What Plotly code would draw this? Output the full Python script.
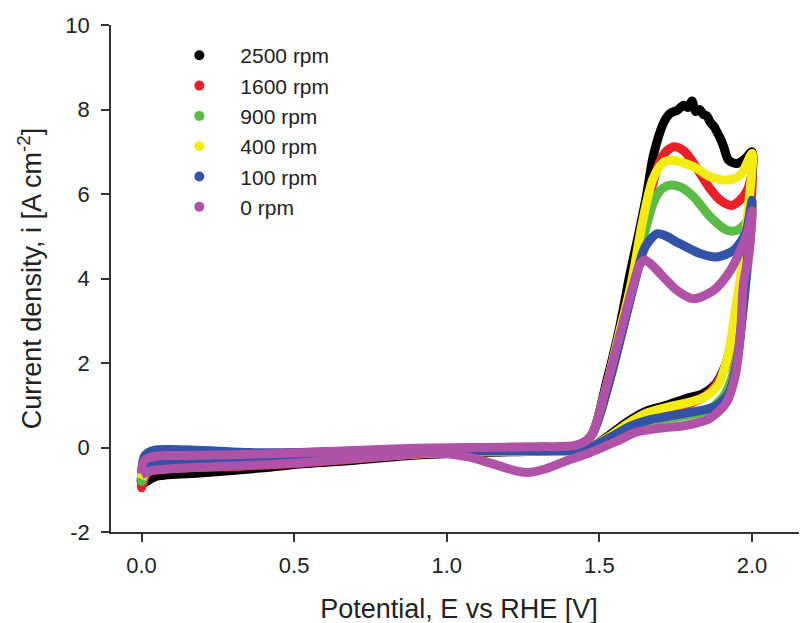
import plotly.graph_objects as go

# potential (V vs RHE) and current density (A cm^-2), forward then reverse sweep
E_fwd_0 = [0.0, 0.01, 0.05, 0.15, 0.3, 0.5, 0.7, 0.9, 1.1, 1.3, 1.42, 1.47, 1.525, 1.568, 1.612, 1.634, 1.65, 1.675, 1.70, 1.754, 1.809, 1.874, 1.929, 1.962, 1.985, 2.0]
I_fwd_0 = [-0.62, -0.3, -0.2, -0.19, -0.17, -0.13, -0.07, -0.02, 0.0, 0.02, 0.05, 0.24, 1.5, 2.69, 3.88, 4.35, 4.43, 4.3, 4.11, 3.72, 3.52, 3.72, 4.19, 4.67, 5.1, 5.6]
E_rev_0 = [1.99, 1.972, 1.962, 1.945, 1.915, 1.86, 1.78, 1.69, 1.62, 1.56, 1.47, 1.39, 1.33, 1.265, 1.22, 1.17, 1.07, 0.95, 0.85, 0.72, 0.5, 0.3, 0.1, 0.03, 0.0]
I_rev_0 = [4.6, 3.88, 2.69, 1.7, 1.05, 0.68, 0.52, 0.45, 0.36, 0.16, -0.12, -0.32, -0.49, -0.59, -0.54, -0.43, -0.22, -0.13, -0.18, -0.25, -0.37, -0.44, -0.5, -0.55, -0.65]

E_fwd_100 = [0.0, 0.01, 0.04, 0.2, 0.35, 0.5, 0.7, 0.9, 1.1, 1.3, 1.43, 1.475, 1.53, 1.573, 1.615, 1.65, 1.689, 1.72, 1.754, 1.83, 1.885, 1.94, 1.978, 2.0]
I_fwd_100 = [-0.6, -0.2, -0.07, -0.07, -0.12, -0.12, -0.08, -0.05, -0.03, 0.0, 0.05, 0.3, 1.5, 2.7, 3.9, 4.75, 5.06, 5.0, 4.86, 4.59, 4.51, 4.67, 5.06, 5.85]
E_rev_100 = [1.99, 1.98, 1.965, 1.95, 1.925, 1.88, 1.82, 1.74, 1.66, 1.6, 1.55, 1.5, 1.45, 1.3, 1.1, 0.9, 0.7, 0.5, 0.3, 0.1, 0.02, 0.0]
I_rev_100 = [5.0, 4.0, 2.9, 2.0, 1.3, 0.97, 0.86, 0.76, 0.65, 0.5, 0.3, 0.1, -0.06, -0.08, -0.08, -0.09, -0.15, -0.25, -0.32, -0.35, -0.4, -0.55]

E_fwd_400 = [0.0, 0.01, 0.05, 0.2, 0.4, 0.6, 0.8, 1.0, 1.2, 1.43, 1.475, 1.525, 1.565, 1.605, 1.64, 1.675, 1.71, 1.74, 1.81, 1.863, 1.918, 1.962, 2.0]
I_fwd_400 = [-0.7, -0.45, -0.42, -0.4, -0.3, -0.18, -0.08, -0.03, 0.0, 0.05, 0.3, 1.5, 2.7, 3.9, 5.3, 6.35, 6.75, 6.8, 6.64, 6.41, 6.33, 6.45, 6.96]
E_rev_400 = [1.985, 1.965, 1.946, 1.93, 1.915, 1.89, 1.85, 1.8, 1.72, 1.65, 1.59, 1.53, 1.47, 1.3, 1.1, 0.9, 0.7, 0.5, 0.3, 0.1, 0.02, 0.0]
I_rev_400 = [5.5, 4.2, 3.3, 2.5, 2.0, 1.5, 1.22, 1.08, 0.95, 0.8, 0.55, 0.25, 0.0, -0.08, -0.1, -0.15, -0.25, -0.33, -0.4, -0.43, -0.5, -0.75]

E_fwd_900 = [0.0, 0.01, 0.05, 0.2, 0.4, 0.6, 0.8, 1.0, 1.2, 1.43, 1.475, 1.53, 1.573, 1.612, 1.645, 1.68, 1.705, 1.732, 1.77, 1.809, 1.863, 1.918, 1.951, 1.975, 1.989, 2.0]
I_fwd_900 = [-0.8, -0.45, -0.4, -0.38, -0.3, -0.18, -0.08, -0.03, 0.0, 0.05, 0.3, 1.5, 2.7, 3.9, 5.0, 5.85, 6.12, 6.21, 6.15, 5.93, 5.46, 5.14, 5.14, 5.28, 5.46, 5.75]
E_rev_900 = [1.99, 1.975, 1.96, 1.94, 1.91, 1.86, 1.78, 1.7, 1.63, 1.57, 1.51, 1.46, 1.3, 1.1, 0.9, 0.7, 0.5, 0.3, 0.1, 0.02, 0.0]
I_rev_900 = [4.6, 3.6, 2.6, 1.8, 1.25, 0.9, 0.75, 0.66, 0.55, 0.33, 0.08, -0.03, -0.08, -0.1, -0.15, -0.25, -0.35, -0.42, -0.46, -0.55, -0.8]

E_fwd_1600 = [0.0, 0.01, 0.05, 0.2, 0.4, 0.6, 0.8, 1.0, 1.2, 1.43, 1.475, 1.53, 1.57, 1.61, 1.64, 1.67, 1.70, 1.725, 1.748, 1.78, 1.82, 1.86, 1.90, 1.934, 1.96, 1.985, 2.0]
I_fwd_1600 = [-0.95, -0.5, -0.42, -0.4, -0.3, -0.18, -0.08, -0.03, 0.0, 0.05, 0.3, 1.5, 2.7, 3.9, 5.0, 6.1, 6.8, 7.05, 7.12, 7.0, 6.6, 6.15, 5.83, 5.73, 5.85, 6.1, 6.44]
E_rev_1600 = [1.99, 1.97, 1.95, 1.93, 1.9, 1.86, 1.8, 1.72, 1.65, 1.59, 1.53, 1.47, 1.3, 1.1, 0.9, 0.7, 0.5, 0.3, 0.1, 0.02, 0.0]
I_rev_1600 = [5.2, 4.0, 3.0, 2.3, 1.7, 1.3, 1.05, 0.9, 0.75, 0.5, 0.22, 0.0, -0.08, -0.1, -0.16, -0.27, -0.38, -0.45, -0.5, -0.6, -0.95]

E_fwd_2500 = [0.0, 0.01, 0.05, 0.2, 0.4, 0.6, 0.8, 1.0, 1.2, 1.43, 1.475, 1.525, 1.565, 1.6, 1.63, 1.655, 1.675, 1.70, 1.715, 1.732, 1.755, 1.776, 1.79, 1.803, 1.815, 1.828, 1.841, 1.852, 1.863, 1.875, 1.885, 1.897, 1.907, 1.923, 1.951, 1.978, 2.0]
I_fwd_2500 = [-0.85, -0.5, -0.42, -0.4, -0.3, -0.18, -0.08, -0.03, 0.0, 0.05, 0.3, 1.6, 2.8, 4.1, 5.1, 6.0, 6.85, 7.5, 7.75, 7.91, 7.98, 8.1, 8.05, 8.2, 7.95, 8.0, 7.88, 7.85, 7.7, 7.6, 7.47, 7.3, 7.12, 6.8, 6.72, 6.84, 7.0]
E_rev_2500 = [1.99, 1.97, 1.95, 1.93, 1.91, 1.88, 1.84, 1.78, 1.72, 1.65, 1.59, 1.53, 1.47, 1.3, 1.1, 0.9, 0.7, 0.5, 0.4, 0.2, 0.05, 0.0]
I_rev_2500 = [5.6, 4.2, 3.2, 2.4, 1.9, 1.5, 1.28, 1.15, 1.0, 0.85, 0.6, 0.28, 0.0, -0.08, -0.12, -0.18, -0.3, -0.4, -0.48, -0.6, -0.68, -0.85]

labels = ["2500 rpm", "1600 rpm", "900 rpm", "400 rpm", "100 rpm", "0 rpm"]
colors = ["#000000", "#e8202a", "#5cbb46", "#f4ea14", "#3352a8", "#b052a8"]

x_ticks = [0, 0.5, 1.0, 1.5, 2.0]
y_ticks = [-2, 0, 2, 4, 6, 8, 10]
y_ticktext = ["-2", "0", "2", "4", "6", "8", "10"]

series = [
    (E_fwd_2500 + E_rev_2500, I_fwd_2500 + I_rev_2500),
    (E_fwd_1600 + E_rev_1600, I_fwd_1600 + I_rev_1600),
    (E_fwd_900 + E_rev_900, I_fwd_900 + I_rev_900),
    (E_fwd_400 + E_rev_400, I_fwd_400 + I_rev_400),
    (E_fwd_100 + E_rev_100, I_fwd_100 + I_rev_100),
    (E_fwd_0 + E_rev_0, I_fwd_0 + I_rev_0),
]

fig = go.Figure()

# curves, drawn 2500 first so 0 rpm ends on top
for (e, i), c in zip(series, colors):
    fig.add_trace(go.Scatter(x=e, y=i, mode="lines", showlegend=False,
                             line=dict(color=c, width=9, shape="spline", smoothing=0.8)))

# legend entries as dots
for name, c in zip(labels, colors):
    fig.add_trace(go.Scatter(x=[None], y=[None], mode="markers", name=name,
                             marker=dict(color=c, size=10)))

axis_style = dict(showline=True, linewidth=1.5, linecolor="#333", ticks="outside",
                  ticklen=8, tickwidth=1.5, tickcolor="#333", showgrid=False,
                  zeroline=False, automargin=False, tickfont=dict(size=22, color="#222"))

fig.update_xaxes(range=[-0.1, 2.18], tickvals=x_ticks, tickformat=".1f",
                 title=dict(text="Potential, E vs RHE [V]", font=dict(size=27, color="#222"), standoff=22),
                 ticklabelstandoff=5, **axis_style)
fig.update_yaxes(range=[-2, 10], tickvals=y_ticks, ticktext=y_ticktext,
                 title=dict(text="Current density, i [A cm<sup>-2</sup>]", font=dict(size=27, color="#222"), standoff=16),
                 ticklabelstandoff=7, **axis_style)

# page body adds 8px around the figure, margins compensate for it
fig.update_layout(
    width=807, height=623,
    margin=dict(l=103, r=8, t=17, b=99),
    plot_bgcolor="white", paper_bgcolor="white",
    font=dict(family="Arial, 'Liberation Sans', sans-serif", size=21, color="#222"),
    legend=dict(x=0.068, y=0.98, xanchor="left", yanchor="top", itemwidth=72,
                bgcolor="rgba(0,0,0,0)", font=dict(size=21)),
)

fig.write_html("out.html")
